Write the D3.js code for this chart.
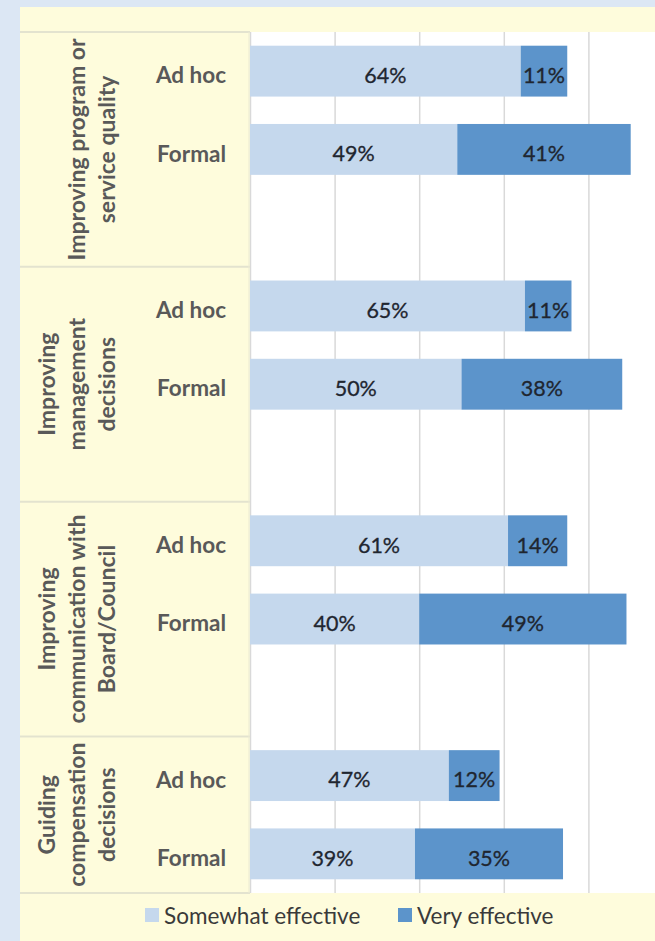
<!DOCTYPE html>
<html>
<head>
<meta charset="utf-8">
<script src="https://cdn.jsdelivr.net/npm/d3@7/dist/d3.min.js"></script>
<style>
  html, body { margin: 0; padding: 0; background: #dce7f4; }
  svg { display: block; }
</style>
</head>
<body>
<svg id="chart" width="655" height="941"></svg>
<script>
// ---- data ----
const groupLabels = [
  ["Improving program or", "service quality"],
  ["Improving", "management", "decisions"],
  ["Improving", "communication with", "Board/Council"],
  ["Guiding", "compensation", "decisions"]
];
const methods = ["Ad hoc", "Formal"];
const somewhatEffective = [64, 49, 65, 50, 61, 40, 47, 39];
const veryEffective = [11, 41, 11, 38, 14, 49, 12, 35];
const xTicks = [0, 20, 40, 60, 80, 100];
const seriesNames = ["Somewhat effective", "Very effective"];

// ---- layout ----
const W = 655, H = 941;
const panelX = 20, panelY = 7;
const plotL = 250, plotT = 32, plotB = 893, plotR = 673;
const colors = ["#c5d8ed", "#5c94cb"];
const yellow = "#fefcdc";
const textGray = "#595959";
const font = "Lato, 'Open Sans', sans-serif";

const svg = d3.select("#chart");
svg.append("rect").attr("width", W).attr("height", H).attr("fill", "#dce7f4");
svg.append("rect").attr("x", panelX).attr("y", panelY)
  .attr("width", W - panelX).attr("height", H - panelY).attr("fill", yellow);

// slots
const slots = [];
const rows = [];
groupLabels.forEach((g, gi) => {
  methods.forEach((m, mi) => {
    const key = gi + "|" + m;
    slots.push(key);
    const idx = gi * methods.length + mi;
    rows.push({ key, group: gi, method: m, s: somewhatEffective[idx], v: veryEffective[idx] });
  });
  if (gi < groupLabels.length - 1) slots.push(gi + "|gap");
});

const y = d3.scaleBand().domain(slots).range([plotT, plotB]).paddingInner(0.35).paddingOuter(0.175);
const x = d3.scaleLinear().domain([0, 100]).range([plotL, plotR]);

// plot area
svg.append("rect").attr("x", plotL).attr("y", plotT)
  .attr("width", W - plotL).attr("height", plotB - plotT).attr("fill", "#ffffff");

// gridlines
const grid = svg.append("g").attr("transform", `translate(0,${plotB})`)
  .call(d3.axisBottom(x).tickValues(xTicks).tickSize(-(plotB - plotT)).tickFormat(""));
grid.select(".domain").remove();
grid.selectAll(".tick line").attr("stroke", "#d9d9d9").attr("stroke-width", 1.5);

// bars
const stackData = rows.map(r => ({ key: r.key, "Somewhat effective": r.s, "Very effective": r.v }));
const stack = d3.stack().keys(seriesNames)(stackData);
const layers = svg.append("g").selectAll("g").data(stack).join("g")
  .attr("fill", (d, i) => colors[i]);
layers.selectAll("rect").data(d => d).join("rect")
  .attr("x", d => x(d[0]))
  .attr("width", d => x(d[1]) - x(d[0]))
  .attr("y", d => y(d.data.key))
  .attr("height", y.bandwidth());

// data labels
layers.selectAll("text").data(d => d).join("text")
  .attr("x", d => (x(d[0]) + x(d[1])) / 2)
  .attr("y", d => y(d.data.key) + y.bandwidth() / 2 + 4)
  .attr("dy", "0.36em")
  .attr("text-anchor", "middle")
  .attr("font-family", font)
  .attr("font-size", 21.5)
  .attr("stroke", "#1f2630").attr("stroke-width", 0.3)
  .attr("fill", "#1f2630")
  .text(d => (d[1] - d[0]) + "%");

// label column
const lab = svg.append("g");
const boundaries = [];
groupLabels.forEach((g, gi) => {
  const first = y(gi + "|" + methods[0]) - y.step() * y.paddingInner() / 2;
  boundaries.push(first);
});
boundaries.push(plotB);
lab.selectAll("line.sep").data(boundaries).join("line")
  .attr("class", "sep")
  .attr("x1", panelX).attr("x2", plotL)
  .attr("y1", d => d).attr("y2", d => d)
  .attr("stroke", "#e3e3cf").attr("stroke-width", 2);
lab.append("line").attr("x1", plotL - 1).attr("x2", plotL - 1)
  .attr("y1", plotT).attr("y2", plotB)
  .attr("stroke", "#ecebd3").attr("stroke-width", 1);

// method labels
lab.selectAll("text.m").data(rows).join("text")
  .attr("class", "m")
  .attr("x", 226)
  .attr("y", d => y(d.key) + y.bandwidth() / 2 + 4)
  .attr("dy", "0.36em")
  .attr("text-anchor", "end")
  .attr("font-family", font)
  .attr("font-weight", 700)
  .attr("font-size", 22.5)
  .attr("fill", textGray)
  .text(d => d.method);

// group labels
groupLabels.forEach((g, gi) => {
  const top = boundaries[gi], bot = boundaries[gi + 1];
  const cy = (top + bot) / 2;
  const t = lab.append("text")
    .attr("transform", `translate(107,${cy}) rotate(-90)`)
    .attr("text-anchor", "middle")
    .attr("font-family", font)
    .attr("font-weight", 700)
    .attr("font-size", 23)
    .attr("fill", textGray);
  g.forEach((line, li) => {
    t.append("tspan").attr("x", 0).attr("y", (li - (g.length - 1)) * 30)
      .attr("dy", "0.36em").text(line);
  });
});

// legend
const leg = svg.append("g");
const legItems = [{ name: seriesNames[0], x: 145 }, { name: seriesNames[1], x: 398 }];
legItems.forEach((it, i) => {
  leg.append("rect").attr("x", it.x).attr("y", 908).attr("width", 14).attr("height", 14)
    .attr("fill", colors[i]);
  leg.append("text").attr("x", it.x + 19).attr("y", 916).attr("dy", "0.36em")
    .attr("font-family", font)
    .attr("font-size", 22.5)
    .attr("fill", "#3a3a3a")
    .text(it.name);
});
</script>
</body>
</html>
